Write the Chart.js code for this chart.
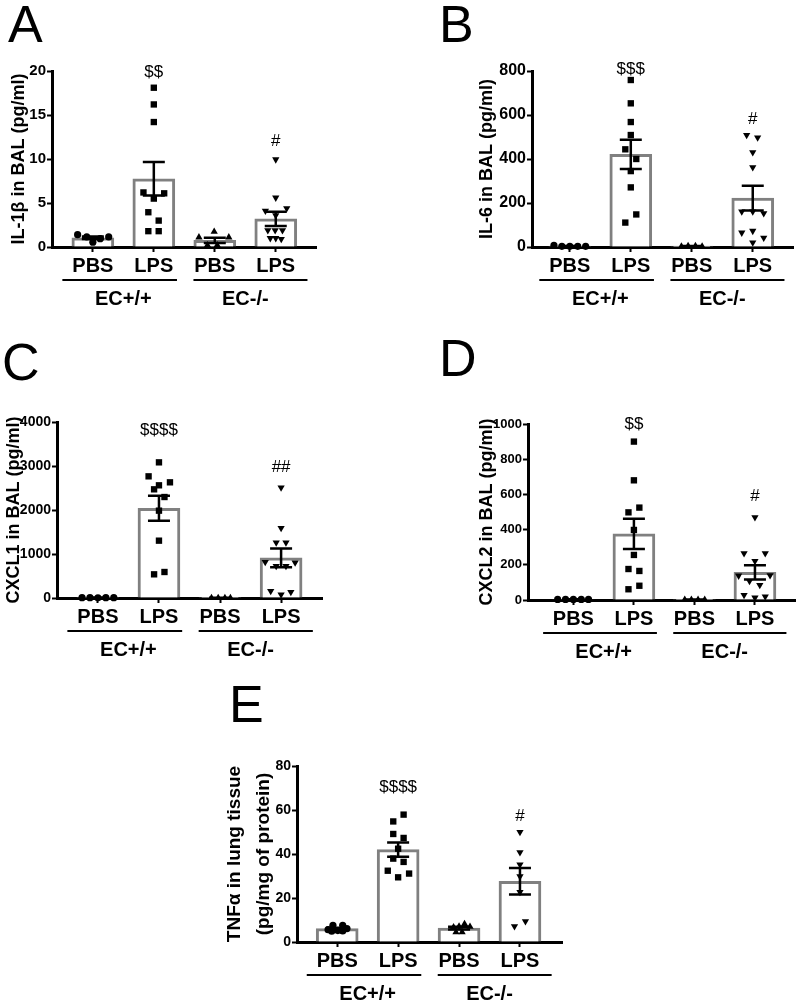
<!DOCTYPE html>
<html>
<head>
<meta charset="utf-8">
<title>Cytokines in BAL and lung tissue</title>
<script src="https://cdn.jsdelivr.net/npm/chart.js@4.4.1/dist/chart.umd.min.js"></script>
<style>
  body { margin: 0; background: #fff; width: 800px; height: 1004px; position: relative; overflow: hidden;
         font-family: 'Liberation Sans', Arial, sans-serif; }
  .panel { position: absolute; }
  .letter { position: absolute; font-size: 52px; line-height: 1; color: #000; }
</style>
</head>
<body>
<div class="letter" style="left:8px;top:-2px">A</div>
<div class="letter" style="left:439px;top:-2px">B</div>
<div class="letter" style="left:2px;top:336px">C</div>
<div class="letter" style="left:439px;top:332px">D</div>
<div class="letter" style="left:229px;top:678px">E</div>

<div class="panel" style="left:0;top:50px;width:330px;height:260px"><canvas id="chartA"></canvas></div>
<div class="panel" style="left:468px;top:50px;width:332px;height:260px"><canvas id="chartB"></canvas></div>
<div class="panel" style="left:0;top:400px;width:330px;height:265px"><canvas id="chartC"></canvas></div>
<div class="panel" style="left:468px;top:400px;width:332px;height:265px"><canvas id="chartD"></canvas></div>
<div class="panel" style="left:216px;top:745px;width:360px;height:259px"><canvas id="chartE"></canvas></div>

<script>
// --- Data ---
const groupLabels = ['PBS', 'LPS', 'PBS', 'LPS'];
const genotypeLabels = ['EC+/+', 'EC-/-'];

// A: IL-1b in BAL (pg/ml)
const il1bPbsWt = [1.4, 1.15, 0.55, 0.95, 1.15];
const il1bLpsWt = [18.1, 16.2, 14.2, 6.2, 6.1, 5.5, 3.95, 3.0, 1.8, 1.8];
const il1bPbsKo = [1.1, 1.75, 1.1, 0.2, 0.2];
const il1bLpsKo = [9.95, 5.6, 4.4, 4.1, 3.6, 1.9, 1.9, 1.9, 1.0, 1.0, 0.9];
const il1bJitter = [
  [-0.25, -0.1, 0, 0.12, 0.26],
  [0, 0, 0, -0.17, 0.17, 0, -0.09, 0.08, -0.09, 0.08],
  [-0.26, -0.01, 0.23, -0.12, 0.04],
  [0, 0, 0.18, -0.17, 0, -0.13, -0.01, 0.11, -0.09, 0.0, 0.09]
];
const il1bMean = [1.05, 7.75, 0.75, 3.2];
const il1bSem = [0.15, 1.9, 0.3, 0.8];
const il1bMarks = ['', '$$', '', '#'];
const il1bMarkY = [0, 19.9, 0, 12.0];

// B: IL-6 in BAL (pg/ml)
const il6PbsWt = [8, 3, 3, 3, 3];
const il6LpsWt = [759, 653, 568, 509, 444, 400, 345, 271, 148, 111];
const il6PbsKo = [3, 5, 5, 3];
const il6LpsKo = [509, 497, 430, 362, 161, 161, 153, 65, 73, 42, 20];
const il6Jitter = [
  [-0.26, -0.13, 0, 0.13, 0.26],
  [0, 0, 0, 0, -0.09, 0.09, 0, 0, 0.09, -0.09],
  [-0.17, -0.06, 0.06, 0.17],
  [-0.1, 0.08, 0, 0, -0.18, 0, 0.18, -0.18, 0, 0.18, 0]
];
const il6Mean = [4, 421, 4, 222];
const il6Sem = [1, 66, 1, 56];
const il6Marks = ['', '$$$', '', '#'];
const il6MarkY = [0, 807, 0, 581];

// C: CXCL1 in BAL (pg/ml)
const cxcl1PbsWt = [8, 8, 3, 8, 8];
const cxcl1LpsWt = [3083, 2765, 2561, 2629, 2470, 2295, 1985, 1303, 538, 591];
const cxcl1PbsKo = [3, 3, 3, 3];
const cxcl1LpsKo = [2508, 1591, 1258, 1258, 818, 803, 727, 727, 159, 136, 76];
const cxcl1Jitter = [
  [-0.26, -0.13, 0, 0.13, 0.26],
  [0, -0.17, 0, 0.18, -0.08, 0.09, 0, 0, -0.08, 0.09],
  [-0.14, -0.03, 0.08, 0.17],
  [0, 0, -0.08, 0.08, -0.26, 0.23, -0.08, 0.08, -0.17, 0.16, 0]
];
const cxcl1Mean = [7, 2040, 2, 912];
const cxcl1Sem = [2, 285, 1, 215];
const cxcl1Marks = ['', '$$$$', '', '##'];
const cxcl1MarkY = [0, 3811, 0, 2977];

// D: CXCL2 in BAL (pg/ml)
const cxcl2PbsWt = [3, 3, 3, 3, 3];
const cxcl2LpsWt = [900, 680, 498, 525, 398, 256, 176, 165, 81, 61];
const cxcl2PbsKo = [2, 2, 2, 2];
const cxcl2LpsKo = [470, 265, 265, 221, 138, 140, 108, 85, 28, 13, 19];
const cxcl2Jitter = [
  [-0.26, -0.13, 0, 0.13, 0.25],
  [0, 0, -0.09, 0.09, 0, 0, -0.09, 0.09, 0.09, -0.09],
  [-0.16, -0.05, 0.06, 0.17],
  [0, -0.18, 0.17, 0, -0.27, 0.25, -0.09, 0.08, -0.18, 0, 0.17]
];
const cxcl2Mean = [3, 376, 2, 157];
const cxcl2Sem = [1, 86, 1, 40];
const cxcl2Marks = ['', '$$', '', '#'];
const cxcl2MarkY = [0, 998, 0, 591];

// E: TNFa in lung tissue (pg/mg of protein)
const tnfPbsWt = [5.6, 7.6, 5.2, 7.6, 6.1, 4.9, 5.0];
const tnfLpsWt = [57.9, 54.8, 49.1, 47.3, 42.4, 37.9, 36.4, 32.4, 31.1, 29.4];
const tnfPbsKo = [6.7, 7.1, 8.2, 7.0, 4.5, 4.5];
const tnfLpsKo = [50, 40.8, 35.2, 29.8, 22.7, 9.4, 7.1];
const tnfJitter = [
  [-0.15, -0.07, 0.01, 0.09, 0.16, -0.09, 0.09],
  [0.09, -0.08, -0.08, 0.09, 0, -0.08, 0.09, -0.17, 0.18, 0],
  [-0.09, 0, 0.09, 0.18, -0.05, 0.05],
  [0, 0, 0, 0, 0, 0.09, -0.09]
];
const tnfMean = [6.1, 42, 6.3, 27.6];
const tnfSem = [0.4, 3.2, 0.6, 6];
const tnfMarks = ['', '$$$$', '', '#'];
const tnfMarkY = [0, 70.3, 0, 57.1];

// --- Styles ---
const FONT = "'Liberation Sans', Arial, sans-serif";
const BAR_GRAY = '#808080';
const pointStyles = [
  { pointStyle: 'circle', pointRadius: 3.6, pointRotation: 0 },
  { pointStyle: 'rect', pointRadius: 4.5, pointRotation: 0 },
  { pointStyle: 'triangle', pointRadius: 4.2, pointRotation: 0 },
  { pointStyle: 'triangle', pointRadius: 4.2, pointRotation: 180 }
];

Chart.defaults.font.family = FONT;
Chart.defaults.color = '#000';

// error bars, significance marks and genotype brackets
function makeExtras(p) {
  return {
    id: 'extras',
    afterDatasetsDraw(chart) {
      const { ctx, scales: { x, y } } = chart;
      ctx.save();
      ctx.strokeStyle = '#000';
      ctx.fillStyle = '#000';
      ctx.lineWidth = 2.5;

      p.mean.forEach((m, i) => {
        const cx = x.getPixelForValue(i + 1);
        const hi = y.getPixelForValue(m + p.sem[i]);
        const lo = y.getPixelForValue(Math.max(m - p.sem[i], 0));
        ctx.beginPath();
        ctx.moveTo(cx, hi); ctx.lineTo(cx, lo);
        ctx.moveTo(cx - 11, hi); ctx.lineTo(cx + 11, hi);
        ctx.moveTo(cx - 11, lo); ctx.lineTo(cx + 11, lo);
        ctx.stroke();
      });

      ctx.font = '17px ' + FONT;
      ctx.textAlign = 'center';
      ctx.textBaseline = 'middle';
      p.marks.forEach((t, i) => {
        if (!t) return;
        ctx.fillText(t, x.getPixelForValue(i + 1), y.getPixelForValue(p.markY[i]));
      });

      // genotype brackets under PBS/LPS labels
      const lineY = y.bottom + 33;
      const spans = [[0.5, 2.38], [2.65, 4.52]];
      ctx.lineWidth = 2;
      ctx.font = 'bold 20px ' + FONT;
      spans.forEach((s, g) => {
        ctx.beginPath();
        ctx.moveTo(x.getPixelForValue(s[0]), lineY);
        ctx.lineTo(x.getPixelForValue(s[1]), lineY);
        ctx.stroke();
        ctx.fillText(genotypeLabels[g], x.getPixelForValue(g * 2 + 1.5), y.bottom + 52);
      });
      ctx.restore();
    }
  };
}

function makePanel(id, p) {
  const datasets = [{
    type: 'bar',
    data: p.mean.map((m, i) => ({ x: i + 1, y: m })),
    backgroundColor: '#fff',
    borderColor: BAR_GRAY,
    borderWidth: 3,
    barThickness: 42,
    order: 3
  }];
  p.groups.forEach((vals, i) => {
    datasets.push(Object.assign({
      type: 'scatter',
      data: vals.map((v, k) => ({ x: i + 1 + p.jitter[i][k], y: v })),
      backgroundColor: '#000',
      borderColor: '#000',
      pointBorderWidth: 0,
      clip: false,
      order: 1
    }, pointStyles[i]));
  });

  new Chart(document.getElementById(id), {
    type: 'bar',
    data: { datasets },
    plugins: [makeExtras(p)],
    options: {
      responsive: true,
      maintainAspectRatio: false,
      animation: false,
      layout: { padding: { left: 0, top: p.padTop, right: p.padRight, bottom: p.padBottom } },
      plugins: { legend: { display: false }, tooltip: { enabled: false } },
      scales: {
        x: {
          type: 'linear',
          min: p.xMin,
          max: p.xMax,
          offset: false,
          afterBuildTicks: (s) => { s.ticks = [1, 2, 3, 4].map(v => ({ value: v })); },
          afterFit: (s) => { s.height = 60; },
          ticks: {
            autoSkip: false, maxRotation: 0, padding: 2,
            font: { size: 20, weight: 'bold' },
            callback: (v, i) => groupLabels[i]
          },
          grid: { display: true, offset: false, drawOnChartArea: false, tickLength: 5, tickWidth: 2, tickColor: '#000' },
          border: { display: true, color: '#000', width: 3 }
        },
        y: {
          min: 0,
          max: p.yMax,
          afterFit: (s) => { s.width = p.axisLeft; },
          ticks: { stepSize: p.yStep, padding: 1, font: { size: p.tickSize, weight: 'bold' }, callback: (v) => String(v) },
          grid: { display: true, drawOnChartArea: false, tickLength: 5, tickWidth: 2, tickColor: '#000' },
          border: { display: true, color: '#000', width: 3 },
          title: {
            display: true,
            text: p.title,
            color: '#000',
            padding: { top: p.titlePad, bottom: 0 },
            font: { size: p.titleSize || 18, weight: 'bold', lineHeight: p.titleLine || 1.2 }
          }
        }
      }
    }
  });
}

makePanel('chartA', {
  groups: [il1bPbsWt, il1bLpsWt, il1bPbsKo, il1bLpsKo], jitter: il1bJitter,
  mean: il1bMean, sem: il1bSem, marks: il1bMarks, markY: il1bMarkY,
  yMax: 20, yStep: 5, title: 'IL-1\u03b2 in BAL (pg/ml)', tickSize: 15,
  xMin: 0.33, xMax: 4.66, axisLeft: 52, padTop: 21, padRight: 14, padBottom: 3, titlePad: 8
});
makePanel('chartB', {
  groups: [il6PbsWt, il6LpsWt, il6PbsKo, il6LpsKo], jitter: il6Jitter,
  mean: il6Mean, sem: il6Sem, marks: il6Marks, markY: il6MarkY,
  yMax: 800, yStep: 200, title: 'IL-6 in BAL (pg/ml)', tickSize: 16,
  xMin: 0.38, xMax: 4.66, axisLeft: 64, padTop: 21, padRight: 7, padBottom: 3, titlePad: 8
});
makePanel('chartC', {
  groups: [cxcl1PbsWt, cxcl1LpsWt, cxcl1PbsKo, cxcl1LpsKo], jitter: cxcl1Jitter,
  mean: cxcl1Mean, sem: cxcl1Sem, marks: cxcl1Marks, markY: cxcl1MarkY,
  yMax: 4000, yStep: 1000, title: 'CXCL1 in BAL (pg/ml)', tickSize: 14,
  xMin: 0.33, xMax: 4.67, axisLeft: 57, padTop: 22, padRight: 8, padBottom: 7, titlePad: 3
});
makePanel('chartD', {
  groups: [cxcl2PbsWt, cxcl2LpsWt, cxcl2PbsKo, cxcl2LpsKo], jitter: cxcl2Jitter,
  mean: cxcl2Mean, sem: cxcl2Sem, marks: cxcl2Marks, markY: cxcl2MarkY,
  yMax: 1000, yStep: 200, title: 'CXCL2 in BAL (pg/ml)', tickSize: 13,
  xMin: 0.25, xMax: 4.67, axisLeft: 60, padTop: 24, padRight: 2, padBottom: 5, titlePad: 8
});
makePanel('chartE', {
  groups: [tnfPbsWt, tnfLpsWt, tnfPbsKo, tnfLpsKo], jitter: tnfJitter,
  mean: tnfMean, sem: tnfSem, marks: tnfMarks, markY: tnfMarkY,
  yMax: 80, yStep: 20, title: ['TNF\u03b1 in lung tissue', '(pg/mg of protein)'], tickSize: 14,
  xMin: 0.34, xMax: 4.69, axisLeft: 81, padTop: 21, padRight: 14, padBottom: 2,
  titlePad: 5, titleSize: 19, titleLine: 1.5
});
</script>
</body>
</html>
